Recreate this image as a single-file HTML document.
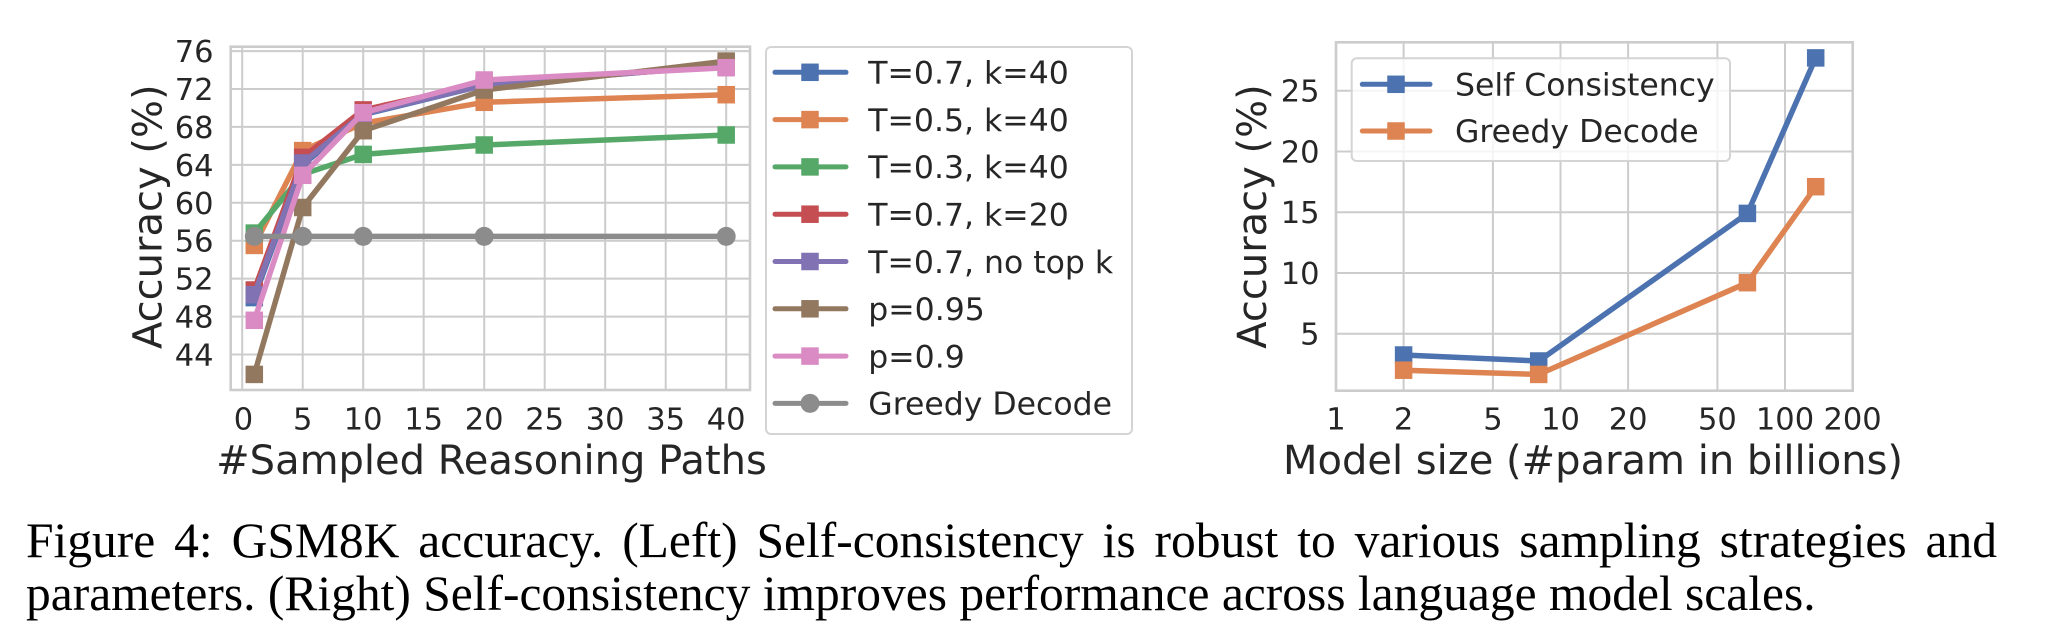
<!DOCTYPE html>
<html>
<head>
<meta charset="utf-8">
<style>
  html, body { margin: 0; padding: 0; background: #ffffff; }
  body { width: 2058px; height: 638px; position: relative; overflow: hidden; }
  svg { position: absolute; left: 0; top: 0; }
  .cap { position: absolute; left: 26px; font-family: "Liberation Serif", "DejaVu Serif", serif; font-size: 49.5px; color: #000; white-space: nowrap; line-height: 1; }
  .l1 { top: 516px; width: 1971px; display: flex; justify-content: space-between; }
  .l2 { top: 569px; }
</style>
</head>
<body>
<svg width="2058" height="638" viewBox="0 0 2058 638" xmlns="http://www.w3.org/2000/svg" font-family="'DejaVu Sans', 'Liberation Sans', sans-serif">
  <!-- ============ LEFT PLOT ============ -->
  <g stroke="#cccccc" stroke-width="2" fill="none">
    <line x1="242.2" y1="46.7" x2="242.2" y2="390"/>
    <line x1="302.7" y1="46.7" x2="302.7" y2="390"/>
    <line x1="363.2" y1="46.7" x2="363.2" y2="390"/>
    <line x1="423.7" y1="46.7" x2="423.7" y2="390"/>
    <line x1="484.2" y1="46.7" x2="484.2" y2="390"/>
    <line x1="544.7" y1="46.7" x2="544.7" y2="390"/>
    <line x1="605.2" y1="46.7" x2="605.2" y2="390"/>
    <line x1="665.7" y1="46.7" x2="665.7" y2="390"/>
    <line x1="726.2" y1="46.7" x2="726.2" y2="390"/>
    <line x1="230.7" y1="354.5" x2="750" y2="354.5"/>
    <line x1="230.7" y1="316.6" x2="750" y2="316.6"/>
    <line x1="230.7" y1="278.6" x2="750" y2="278.6"/>
    <line x1="230.7" y1="240.7" x2="750" y2="240.7"/>
    <line x1="230.7" y1="202.8" x2="750" y2="202.8"/>
    <line x1="230.7" y1="164.9" x2="750" y2="164.9"/>
    <line x1="230.7" y1="126.9" x2="750" y2="126.9"/>
    <line x1="230.7" y1="89.0" x2="750" y2="89.0"/>
    <line x1="230.7" y1="51.1" x2="750" y2="51.1"/>
  </g>
  <rect x="230.7" y="46.7" width="519.3" height="343.3" fill="none" stroke="#cccccc" stroke-width="2.6"/>

  <g fill="none" stroke-width="5.5" stroke-linejoin="round" stroke-linecap="round">
    <!-- blue -->
    <polyline stroke="#4C72B0" points="254.3,297.6 302.7,164.9 363.2,114.6 484.2,85.2 726.2,65.3"/>
    <g fill="#4C72B0" stroke="none">
      <rect x="245.55" y="288.85" width="17.5" height="17.5"/><rect x="293.95" y="156.15" width="17.5" height="17.5"/><rect x="354.45" y="105.85" width="17.5" height="17.5"/><rect x="475.45" y="76.45" width="17.5" height="17.5"/><rect x="717.45" y="56.55" width="17.5" height="17.5"/>
    </g>
    <!-- orange -->
    <polyline stroke="#DD8452" points="254.3,245.4 302.7,150.6 363.2,123.2 484.2,102.3 726.2,94.7"/>
    <g fill="#DD8452" stroke="none">
      <rect x="245.55" y="236.65" width="17.5" height="17.5"/><rect x="293.95" y="141.85" width="17.5" height="17.5"/><rect x="354.45" y="114.45" width="17.5" height="17.5"/><rect x="475.45" y="93.55" width="17.5" height="17.5"/><rect x="717.45" y="85.95" width="17.5" height="17.5"/>
    </g>
    <!-- green -->
    <polyline stroke="#55A868" points="254.3,233.1 302.7,174.3 363.2,154.4 484.2,145.0 726.2,135.0"/>
    <g fill="#55A868" stroke="none">
      <rect x="245.55" y="224.35" width="17.5" height="17.5"/><rect x="293.95" y="165.55" width="17.5" height="17.5"/><rect x="354.45" y="145.65" width="17.5" height="17.5"/><rect x="475.45" y="136.25" width="17.5" height="17.5"/><rect x="717.45" y="126.25" width="17.5" height="17.5"/>
    </g>
    <!-- red -->
    <polyline stroke="#C44E52" points="254.3,290.0 302.7,157.3 363.2,109.9 484.2,83.3 726.2,66.3"/>
    <g fill="#C44E52" stroke="none">
      <rect x="245.55" y="281.25" width="17.5" height="17.5"/><rect x="293.95" y="148.55" width="17.5" height="17.5"/><rect x="354.45" y="101.15" width="17.5" height="17.5"/><rect x="475.45" y="74.55" width="17.5" height="17.5"/><rect x="717.45" y="57.55" width="17.5" height="17.5"/>
    </g>
    <!-- purple -->
    <polyline stroke="#8172B3" points="254.3,294.7 302.7,163.0 363.2,113.7 484.2,85.2 726.2,65.3"/>
    <g fill="#8172B3" stroke="none">
      <rect x="245.55" y="285.95" width="17.5" height="17.5"/><rect x="293.95" y="154.25" width="17.5" height="17.5"/><rect x="354.45" y="104.95" width="17.5" height="17.5"/><rect x="475.45" y="76.45" width="17.5" height="17.5"/><rect x="717.45" y="56.55" width="17.5" height="17.5"/>
    </g>
    <!-- brown -->
    <polyline stroke="#937860" points="254.3,374.4 302.7,207.5 363.2,130.7 484.2,90.0 726.2,61.1"/>
    <g fill="#937860" stroke="none">
      <rect x="245.55" y="365.65" width="17.5" height="17.5"/><rect x="293.95" y="198.75" width="17.5" height="17.5"/><rect x="354.45" y="121.95" width="17.5" height="17.5"/><rect x="475.45" y="81.25" width="17.5" height="17.5"/><rect x="717.45" y="52.35" width="17.5" height="17.5"/>
    </g>
    <!-- pink -->
    <polyline stroke="#DA8BC3" points="254.3,320.3 302.7,175.3 363.2,112.7 484.2,80.0 726.2,67.7"/>
    <g fill="#DA8BC3" stroke="none">
      <rect x="245.55" y="311.55" width="17.5" height="17.5"/><rect x="293.95" y="166.55" width="17.5" height="17.5"/><rect x="354.45" y="103.95" width="17.5" height="17.5"/><rect x="475.45" y="71.25" width="17.5" height="17.5"/><rect x="717.45" y="58.95" width="17.5" height="17.5"/>
    </g>
    <!-- gray greedy -->
    <polyline stroke="#8C8C8C" points="254.3,236.4 302.7,236.4 363.2,236.4 484.2,236.4 726.2,236.4"/>
    <g fill="#8C8C8C" stroke="none">
      <circle cx="254.3" cy="236.4" r="9.5"/><circle cx="302.7" cy="236.4" r="9.5"/><circle cx="363.2" cy="236.4" r="9.5"/><circle cx="484.2" cy="236.4" r="9.5"/><circle cx="726.2" cy="236.4" r="9.5"/>
    </g>
  </g>

  <!-- left tick labels -->
  <g fill="#262626" font-size="30.5" text-anchor="end">
    <text x="213.5" y="365.5">44</text>
    <text x="213.5" y="327.6">48</text>
    <text x="213.5" y="289.6">52</text>
    <text x="213.5" y="251.7">56</text>
    <text x="213.5" y="213.8">60</text>
    <text x="213.5" y="175.9">64</text>
    <text x="213.5" y="137.9">68</text>
    <text x="213.5" y="100.0">72</text>
    <text x="213.5" y="62.1">76</text>
  </g>
  <g fill="#262626" font-size="30.5" text-anchor="middle">
    <text x="243.5" y="429.5">0</text>
    <text x="302.7" y="429.5">5</text>
    <text x="363.2" y="429.5">10</text>
    <text x="423.7" y="429.5">15</text>
    <text x="484.2" y="429.5">20</text>
    <text x="544.7" y="429.5">25</text>
    <text x="605.2" y="429.5">30</text>
    <text x="665.7" y="429.5">35</text>
    <text x="726.2" y="429.5">40</text>
  </g>
  <text x="491.5" y="474" fill="#262626" font-size="40" text-anchor="middle">#Sampled Reasoning Paths</text>
  <text transform="translate(161.7,216.7) rotate(-90)" fill="#262626" font-size="40" text-anchor="middle">Accuracy (%)</text>

  <!-- left legend -->
  <rect x="766" y="47" width="366" height="387" rx="5" ry="5" fill="#ffffff" fill-opacity="0.8" stroke="#d4d4d4" stroke-width="2"/>
  <g stroke-width="5" stroke-linecap="round">
    <line x1="775" y1="72.3" x2="846" y2="72.3" stroke="#4C72B0"/>
    <line x1="775" y1="119.6" x2="846" y2="119.6" stroke="#DD8452"/>
    <line x1="775" y1="166.9" x2="846" y2="166.9" stroke="#55A868"/>
    <line x1="775" y1="214.2" x2="846" y2="214.2" stroke="#C44E52"/>
    <line x1="775" y1="261.5" x2="846" y2="261.5" stroke="#8172B3"/>
    <line x1="775" y1="308.8" x2="846" y2="308.8" stroke="#937860"/>
    <line x1="775" y1="356.1" x2="846" y2="356.1" stroke="#DA8BC3"/>
    <line x1="775" y1="403.4" x2="846" y2="403.4" stroke="#8C8C8C"/>
  </g>
  <rect x="801.25" y="63.55" width="17.5" height="17.5" fill="#4C72B0"/>
  <rect x="801.25" y="110.85" width="17.5" height="17.5" fill="#DD8452"/>
  <rect x="801.25" y="158.15" width="17.5" height="17.5" fill="#55A868"/>
  <rect x="801.25" y="205.45" width="17.5" height="17.5" fill="#C44E52"/>
  <rect x="801.25" y="252.75" width="17.5" height="17.5" fill="#8172B3"/>
  <rect x="801.25" y="300.05" width="17.5" height="17.5" fill="#937860"/>
  <rect x="801.25" y="347.35" width="17.5" height="17.5" fill="#DA8BC3"/>
  <circle cx="810" cy="403.4" r="9.5" fill="#8C8C8C"/>
  <g fill="#262626" font-size="31.5">
    <text x="868.3" y="83.6">T=0.7, k=40</text>
    <text x="868.3" y="130.9">T=0.5, k=40</text>
    <text x="868.3" y="178.2">T=0.3, k=40</text>
    <text x="868.3" y="225.5">T=0.7, k=20</text>
    <text x="868.3" y="272.8">T=0.7, no top k</text>
    <text x="868.3" y="320.1">p=0.95</text>
    <text x="868.3" y="367.4">p=0.9</text>
    <text x="868.3" y="414.7">Greedy Decode</text>
  </g>

  <!-- ============ RIGHT PLOT ============ -->
  <g stroke="#cccccc" stroke-width="2" fill="none">
    <line x1="1403.6" y1="42.3" x2="1403.6" y2="390.7"/>
    <line x1="1492.9" y1="42.3" x2="1492.9" y2="390.7"/>
    <line x1="1560.5" y1="42.3" x2="1560.5" y2="390.7"/>
    <line x1="1628.1" y1="42.3" x2="1628.1" y2="390.7"/>
    <line x1="1717.4" y1="42.3" x2="1717.4" y2="390.7"/>
    <line x1="1785.0" y1="42.3" x2="1785.0" y2="390.7"/>
    <line x1="1336" y1="333.7" x2="1852.7" y2="333.7"/>
    <line x1="1336" y1="272.95" x2="1852.7" y2="272.95"/>
    <line x1="1336" y1="212.2" x2="1852.7" y2="212.2"/>
    <line x1="1336" y1="151.45" x2="1852.7" y2="151.45"/>
    <line x1="1336" y1="90.7" x2="1852.7" y2="90.7"/>
  </g>
  <rect x="1336" y="42.3" width="516.7" height="348.4" fill="none" stroke="#cccccc" stroke-width="2.6"/>

  <g fill="none" stroke-width="5.5" stroke-linejoin="round" stroke-linecap="round">
    <polyline stroke="#4C72B0" points="1403.6,355.0 1538.7,361.0 1747.4,213.4 1815.7,57.9"/>
    <polyline stroke="#DD8452" points="1403.6,370.2 1538.7,374.4 1747.4,282.7 1815.7,186.7"/>
  </g>
  <g fill="#4C72B0">
    <rect x="1394.85" y="346.25" width="17.5" height="17.5"/><rect x="1529.95" y="352.25" width="17.5" height="17.5"/><rect x="1738.65" y="204.65" width="17.5" height="17.5"/><rect x="1806.95" y="49.15" width="17.5" height="17.5"/>
  </g>
  <g fill="#DD8452">
    <rect x="1394.85" y="361.45" width="17.5" height="17.5"/><rect x="1529.95" y="365.65" width="17.5" height="17.5"/><rect x="1738.65" y="273.95" width="17.5" height="17.5"/><rect x="1806.95" y="177.95" width="17.5" height="17.5"/>
  </g>

  <g fill="#262626" font-size="30.5" text-anchor="end">
    <text x="1319.5" y="344.7">5</text>
    <text x="1319.5" y="284.0">10</text>
    <text x="1319.5" y="223.2">15</text>
    <text x="1319.5" y="162.5">20</text>
    <text x="1319.5" y="101.7">25</text>
  </g>
  <g fill="#262626" font-size="30.5" text-anchor="middle">
    <text x="1336" y="429.5">1</text>
    <text x="1403.6" y="429.5">2</text>
    <text x="1492.9" y="429.5">5</text>
    <text x="1560.5" y="429.5">10</text>
    <text x="1628.1" y="429.5">20</text>
    <text x="1717.4" y="429.5">50</text>
    <text x="1785.0" y="429.5">100</text>
    <text x="1852.6" y="429.5">200</text>
  </g>
  <text x="1593" y="474" fill="#262626" font-size="40" text-anchor="middle">Model size (#param in billions)</text>
  <text transform="translate(1266,216.5) rotate(-90)" fill="#262626" font-size="40" text-anchor="middle">Accuracy (%)</text>

  <!-- right legend -->
  <rect x="1351.7" y="58.3" width="378.3" height="102.7" rx="5" ry="5" fill="#ffffff" fill-opacity="0.8" stroke="#d4d4d4" stroke-width="2"/>
  <g stroke-width="5" stroke-linecap="round">
    <line x1="1362.3" y1="84.3" x2="1430" y2="84.3" stroke="#4C72B0"/>
    <line x1="1362.3" y1="131" x2="1430" y2="131" stroke="#DD8452"/>
  </g>
  <rect x="1387.25" y="75.55" width="17.5" height="17.5" fill="#4C72B0"/>
  <rect x="1387.25" y="122.25" width="17.5" height="17.5" fill="#DD8452"/>
  <g fill="#262626" font-size="31.5">
    <text x="1455" y="95.3">Self Consistency</text>
    <text x="1455" y="142">Greedy Decode</text>
  </g>
</svg>

<div class="cap l1"><span>Figure</span><span>4:</span><span>GSM8K</span><span>accuracy.</span><span>(Left)</span><span>Self-consistency</span><span>is</span><span>robust</span><span>to</span><span>various</span><span>sampling</span><span>strategies</span><span>and</span></div>
<div class="cap l2">parameters. (Right) Self-consistency improves performance across language model scales.</div>
</body>
</html>
